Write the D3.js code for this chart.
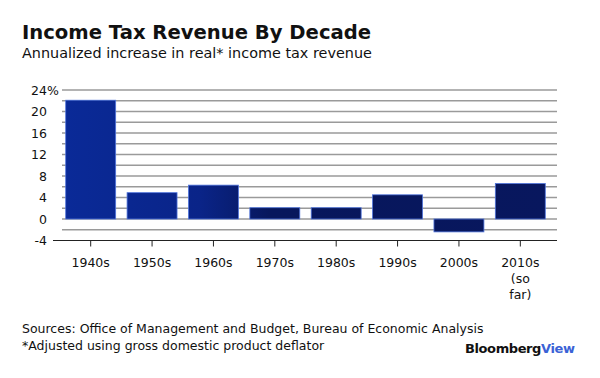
<!DOCTYPE html>
<html>
<head>
<meta charset="utf-8">
<script src="https://cdn.jsdelivr.net/npm/d3@7"></script>
<style>
  html, body { margin: 0; padding: 0; background: #fff; }
  svg { display: block; }
</style>
</head>
<body>
<svg id="chart" width="600" height="378"></svg>
<script>
const categories = ["1940s", "1950s", "1960s", "1970s", "1980s", "1990s", "2000s", "2010s (so far)"];
const categoryLines = [["1940s"], ["1950s"], ["1960s"], ["1970s"], ["1980s"], ["1990s"], ["2000s"], ["2010s", "(so", "far)"]];
const values = [22.1, 4.9, 6.3, 2.1, 2.1, 4.5, -2.4, 6.6];
const yTickLabels = [-4, 0, 4, 8, 12, 16, 20, 24];
const gridValues = [-2, 0, 2, 4, 6, 8, 10, 12, 14, 16, 18, 20, 22, 24];
const title = "Income Tax Revenue By Decade";
const subtitle = "Annualized increase in real* income tax revenue";
const source1 = "Sources: Office of Management and Budget, Bureau of Economic Analysis";
const source2 = "*Adjusted using gross domestic product deflator";

const svg = d3.select("#chart");
const font = "'DejaVu Sans', Verdana, sans-serif";

const x = d3.scaleBand().domain(categories).range([60, 551]).paddingInner(0.186).paddingOuter(0.093);
const y = d3.scaleLinear().domain([-4, 24]).range([240.5, 90]);

// gradient
const defs = svg.append("defs");
const grad = defs.append("linearGradient").attr("id", "barGrad")
  .attr("gradientUnits", "userSpaceOnUse").attr("x1", 60).attr("x2", 560).attr("y1", 0).attr("y2", 0);
grad.append("stop").attr("offset", "0%").attr("stop-color", "#0a2a98");
grad.append("stop").attr("offset", "28%").attr("stop-color", "#0a2488");
grad.append("stop").attr("offset", "42%").attr("stop-color", "#07175c");
grad.append("stop").attr("offset", "100%").attr("stop-color", "#08175e");

// title
svg.append("text").attr("x", 22).attr("y", 39).text(title)
  .attr("font-family", font).attr("font-weight", "bold")
  .attr("font-size", 19.6).attr("fill", "#111");
svg.append("text").attr("x", 22).attr("y", 58).text(subtitle)
  .attr("font-family", font)
  .attr("font-size", 14.4).attr("fill", "#111");

// gridlines
svg.append("g").selectAll("line").data(gridValues).join("line")
  .attr("x1", 62).attr("x2", 557)
  .attr("y1", d => y(d)).attr("y2", d => y(d))
  .attr("stroke", "#9a9a9a").attr("stroke-width", 1.3);

// bars
svg.append("g").selectAll("rect").data(values).join("rect")
  .attr("x", (d, i) => x(categories[i]))
  .attr("width", x.bandwidth())
  .attr("y", d => y(Math.max(0, d)))
  .attr("height", d => Math.abs(y(d) - y(0)))
  .attr("fill", "url(#barGrad)")
  .attr("stroke", "#4f74dc").attr("stroke-width", 0.8);

// x axis
const xAxis = d3.axisBottom(x).tickSize(6).tickFormat("");
const gx = svg.append("g").attr("transform", `translate(0,${y(-4)})`).call(xAxis);
gx.select(".domain").remove();
gx.selectAll(".tick line").attr("stroke", "#222").attr("stroke-width", 1);
svg.append("line").attr("x1", 53).attr("x2", 557).attr("y1", y(-4)).attr("y2", y(-4))
  .attr("stroke", "#222").attr("stroke-width", 1.2);

// x labels
const xl = svg.append("g").selectAll("text").data(categories).join("text")
  .attr("text-anchor", "middle")
  .attr("font-family", font)
  .attr("font-size", 12.5).attr("fill", "#111");
xl.each(function(d, i) {
  const t = d3.select(this);
  categoryLines[i].forEach((line, j) => {
    t.append("tspan").attr("x", x(d) + x.bandwidth() / 2).attr("y", 267 + j * 16).text(line);
  });
});

// y labels
svg.append("g").selectAll("text").data(yTickLabels).join("text")
  .attr("x", 47).attr("y", d => y(d)).attr("dy", "0.36em")
  .attr("text-anchor", "end")
  .attr("font-family", font)
  .attr("font-size", 12.5).attr("fill", "#111")
  .text(d => d);
svg.append("text").attr("x", 47).attr("y", y(24)).attr("dy", "0.36em")
  .attr("font-family", font)
  .attr("font-size", 12.5).attr("fill", "#111").text("%");

// footer
svg.append("text").attr("x", 22).attr("y", 333).text(source1)
  .attr("font-family", font)
  .attr("font-size", 12.5).attr("fill", "#111");
svg.append("text").attr("x", 22).attr("y", 350).text(source2)
  .attr("font-family", font)
  .attr("font-size", 12.5).attr("fill", "#111");
const brand = svg.append("text").attr("x", 465).attr("y", 353)
  .attr("font-family", font).attr("font-weight", "bold")
  .attr("font-size", 13).attr("letter-spacing", -0.4);
brand.append("tspan").attr("fill", "#111").text("Bloomberg");
brand.append("tspan").attr("fill", "#3a62d6").text("View");
</script>
</body>
</html>
